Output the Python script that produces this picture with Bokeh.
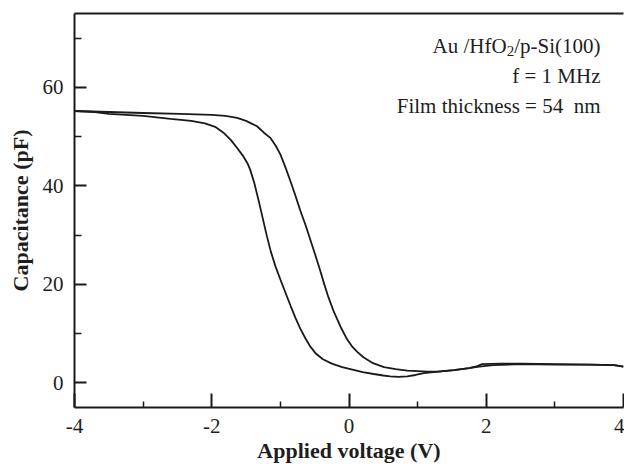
from bokeh.plotting import figure
from bokeh.models import Label, LinearAxis, FixedTicker, Range1d
from bokeh.embed import file_html
from bokeh.resources import INLINE

# Sweep 1 (left branch)
v_sweep1 = [-4.0, -3.7, -3.5, -3.0, -2.6, -2.3, -2.1, -1.95, -1.83, -1.72, -1.63, -1.55,
            -1.48, -1.44, -1.38, -1.32, -1.26, -1.2, -1.14, -1.07, -1.0, -0.92, -0.85,
            -0.78, -0.71, -0.63, -0.56, -0.48, -0.38, -0.25, -0.1, 0.02, 0.2, 0.36, 0.5,
            0.6, 0.72, 0.85, 0.97, 1.09, 1.3, 1.53, 1.75, 1.87, 1.94, 2.2, 2.5, 3.0, 3.5,
            3.86, 4.0]
c_sweep1 = [55.2, 55.0, 54.6, 54.2, 53.6, 53.2, 52.7, 52.0, 50.8, 49.3, 47.7, 46.2,
            44.6, 43.3, 40.6, 37.2, 33.6, 30.0, 26.7, 23.6, 21.0, 18.1, 15.6,
            13.2, 11.0, 8.9, 7.3, 5.9, 4.8, 3.9, 3.2, 2.8, 2.2, 1.8, 1.5,
            1.3, 1.2, 1.3, 1.6, 2.0, 2.3, 2.6, 3.0, 3.4, 3.8, 3.9, 3.9, 3.8, 3.7,
            3.6, 3.3]

# Sweep 2 (right branch)
v_sweep2 = [-4.0, -3.5, -3.0, -2.46, -2.0, -1.8, -1.63, -1.5, -1.34, -1.24, -1.15, -1.07,
            -1.0, -0.93, -0.854, -0.78, -0.71, -0.63, -0.56, -0.49, -0.42, -0.36, -0.30,
            -0.22, -0.12, -0.03, 0.05, 0.12, 0.21, 0.35, 0.51, 0.68, 0.85, 1.0, 1.14, 1.3,
            1.53, 1.75, 1.9, 2.1, 2.5, 3.0, 3.5, 3.86, 4.0]
c_sweep2 = [55.2, 55.0, 54.8, 54.6, 54.4, 54.2, 53.8, 53.2, 52.1, 50.8, 49.8, 48.2,
            46.4, 43.9, 41.0, 38.0, 35.0, 31.9, 28.9, 25.9, 22.8, 20.0, 17.4,
            14.4, 11.3, 8.9, 7.3, 6.3, 5.2, 4.0, 3.2, 2.8, 2.5, 2.4, 2.3, 2.3,
            2.6, 3.0, 3.3, 3.6, 3.8, 3.7, 3.7, 3.6, 3.3]

x_major = [-4, -2, 0, 2, 4]
x_minor = [-3, -1, 1, 3]
y_major = [0, 20, 40, 60]
y_minor = [10, 30, 50, 70]

FONT = "Liberation Serif"
TXT = "#1e1e1e"

p = figure(width=624, height=467, output_backend="svg", toolbar_location=None,
           x_range=Range1d(-4, 4), y_range=Range1d(-5, 75),
           min_border_left=74, min_border_right=1, min_border_top=13, min_border_bottom=60)
p.outline_line_color = None
p.grid.visible = False
p.background_fill_color = "white"
p.border_fill_color = "white"

p.line(v_sweep1, c_sweep1, line_color="#1a1a1a", line_width=1.8)
p.line(v_sweep2, c_sweep2, line_color="#1a1a1a", line_width=1.8)

xa = p.xaxis[0]
xa.ticker = FixedTicker(ticks=x_major, minor_ticks=x_minor)
xa.major_label_overrides = {t: str(t) for t in x_major}
xa.axis_label = "Applied voltage (V)"
xa.major_tick_in = 14
xa.major_tick_out = 0
xa.minor_tick_in = 6
xa.minor_tick_out = 0
xa.major_label_standoff = 11
xa.axis_label_standoff = 2

ya = p.yaxis[0]
ya.ticker = FixedTicker(ticks=y_major, minor_ticks=y_minor)
ya.major_label_overrides = {t: str(t) for t in y_major}
ya.axis_label = "Capacitance (pF)"
ya.major_tick_in = 12
ya.major_tick_out = 0
ya.minor_tick_in = 7
ya.minor_tick_out = 0
ya.major_label_standoff = 11
ya.axis_label_standoff = 7

for ax in (xa, ya):
    ax.axis_line_width = 2
    ax.axis_line_color = "#1a1a1a"
    ax.major_tick_line_width = 2
    ax.major_tick_line_color = "#1a1a1a"
    ax.minor_tick_line_width = 1.5
    ax.minor_tick_line_color = "#1a1a1a"
    ax.major_label_text_font = FONT
    ax.major_label_text_font_size = "21px"
    ax.major_label_text_color = TXT
    ax.axis_label_text_font = FONT
    ax.axis_label_text_font_size = "22px"
    ax.axis_label_text_font_style = "bold"
    ax.axis_label_text_color = TXT

top = LinearAxis(ticker=FixedTicker(ticks=[]), axis_line_width=2, axis_line_color="#1a1a1a",
                 major_tick_line_color=None, minor_tick_line_color=None,
                 major_label_text_font_size="0px")
p.add_layout(top, "above")

# annotation text (right aligned near right edge)
fs = 21
w_tail = 4.111 * fs   # width of "/p-Si(100)"
w_sub = 0.5 * 15      # width of subscript "2"
x_right = -23

def lab(text, y, xoff, size="21px", yoff=0):
    p.add_layout(Label(x=4, y=y, x_offset=xoff, y_offset=yoff, text=text,
                       text_align="right", text_baseline="middle",
                       text_font=FONT, text_font_size=size, text_color=TXT))

lab("/p-Si(100)", 68.3, x_right)
lab("2", 68.3, x_right - w_tail, size="15px", yoff=-5)
lab("Au /HfO", 68.3, x_right - w_tail - w_sub)
lab("f = 1 MHz", 62.3, x_right)
lab("Film thickness = 54\u00a0\u00a0nm", 56.3, x_right)

open("out.html", "w").write(file_html(p, INLINE))
